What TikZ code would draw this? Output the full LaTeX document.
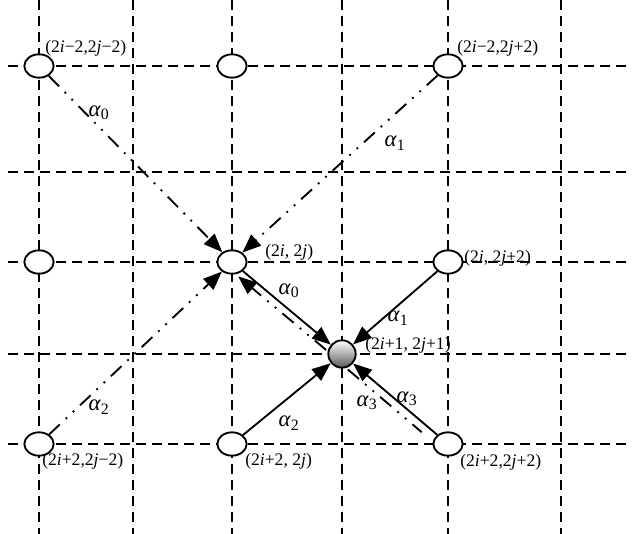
\documentclass[tikz,border=0pt]{standalone}
\usepackage{fontspec}
\setmainfont{Liberation Serif}
\usetikzlibrary{arrows.meta,shapes.geometric}
\begin{document}
\begin{tikzpicture}[x=0.75pt,y=-0.75pt,
  gridline/.style={line width=1.3pt,dash pattern=on 7.5pt off 4.5pt},
  pt/.style={ellipse,draw,line width=1.4pt,fill=white,minimum width=22pt,minimum height=17.5pt,inner sep=0pt},
  ctr/.style={circle,draw,line width=1.4pt,top color=white,bottom color=black!65,minimum size=20.5pt,inner sep=0pt},
  ddd/.style={line width=1.4pt,dash pattern=on 11pt off 6pt on 1.4pt off 6pt on 1.4pt off 6pt},
  solidline/.style={line width=1.4pt},
  arr/.style={-{Triangle[length=14pt,width=11pt]}},
  lab/.style={font=\fontsize{13.2}{15}\selectfont,inner sep=0pt},
  alab/.style={font=\fontsize{17}{18}\selectfont,inner sep=0pt},
]
\useasboundingbox (0,0) rectangle (639,534);
% grid
\foreach \x in {39,133,232,342,448,561} \draw[gridline] (\x,0) -- (\x,534);
\foreach \y in {66,172,262,354,444} \draw[gridline] (8,\y) -- (627,\y);
% nodes
\node[pt] (n00) at (39,66) {};
\node[pt] (n01) at (232,66) {};
\node[pt] (n02) at (448,66) {};
\node[pt] (n10) at (39,262) {};
\node[pt] (n11) at (232,262) {};
\node[pt] (n12) at (448,262) {};
\node[pt] (n20) at (39,444) {};
\node[pt] (n21) at (232,444) {};
\node[pt] (n22) at (448,444) {};
\node[ctr] (c) at (342,354) {};
% dash-dot-dot connectors
\draw[ddd,arr] (n00) -- (n11);
\draw[ddd,arr] (n02) -- (n11);
\draw[ddd,arr] (n20) -- (n11);
\draw[ddd,arr,transform canvas={xshift=-3.5pt,yshift=-4pt}] (c) -- (n11);
\draw[ddd,shorten >=10pt,transform canvas={xshift=-4pt,yshift=-4.5pt}] (c) -- (n22);
% solid connectors
\draw[solidline,arr] (n11) -- (c);
\draw[solidline,arr] (n12) -- (c);
\draw[solidline,arr] (n21) -- (c);
\draw[solidline,arr] (n22) -- (c);
% coordinate labels
\node[lab,anchor=west] (t00) at (45,48) {(2\textit{i}−2,2\textit{j}−2)};
\node[lab,anchor=west] (t02) at (457,48) {(2\textit{i}−2,2\textit{j}+2)};
\node[lab,anchor=west] (t11) at (265,252) {(2\textit{i}, 2\textit{j})};
\node[lab,anchor=west] (t12) at (464,258) {(2\textit{i}, 2\textit{j}+2)};
\node[lab,anchor=west] (tc) at (365,345) {(2\textit{i}+1, 2\textit{j}+1)};
\node[lab,anchor=west] (t20) at (42,461) {(2\textit{i}+2,2\textit{j}−2)};
\node[lab,anchor=west] (t21) at (245,461) {(2\textit{i}+2, 2\textit{j})};
\node[lab,anchor=west] (t22) at (460,462) {(2\textit{i}+2,2\textit{j}+2)};
% alpha labels
\node[alab] (a0) at (99,113) {\textit{α}\textsubscript{0}};
\node[alab] (a1) at (395,143) {\textit{α}\textsubscript{1}};
\node[alab] (a2) at (99,407) {\textit{α}\textsubscript{2}};
\node[alab] (b0) at (289,291) {\textit{α}\textsubscript{0}};
\node[alab] (b1) at (398,318) {\textit{α}\textsubscript{1}};
\node[alab] (b2) at (289,423) {\textit{α}\textsubscript{2}};
\node[alab] (b3) at (407,399) {\textit{α}\textsubscript{3}};
\node[alab] (b3d) at (367,403) {\textit{α}\textsubscript{3}};
\end{tikzpicture}
\end{document}
